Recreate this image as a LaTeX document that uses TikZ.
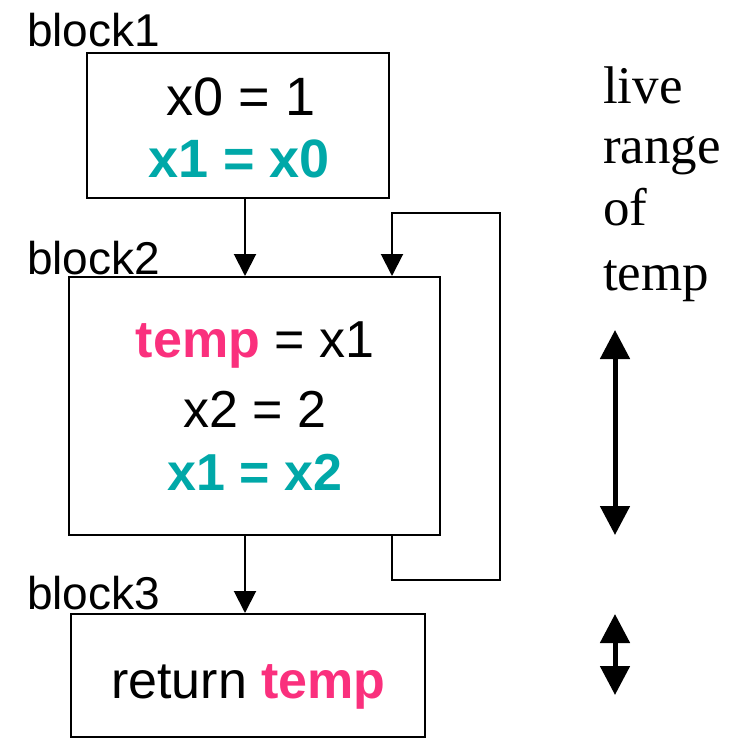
\documentclass[tikz,border=0pt]{standalone}
\usepackage{fontspec}
\setmainfont{Liberation Sans}
\newfontfamily\timesf{Liberation Serif}
\usetikzlibrary{arrows.meta}
\definecolor{tealc}{RGB}{0,168,168}
\definecolor{pinkc}{RGB}{250,48,125}
\begin{document}
\begin{tikzpicture}[x=1pt,y=-1pt,
  blockbox/.style={draw,line width=2pt,inner sep=0pt},
  codetext/.style={font=\fontsize{52}{62}\selectfont,anchor=base,inner sep=0pt},
  bigcode/.style={font=\fontsize{54}{62}\selectfont,anchor=base,inner sep=0pt},
  labeltext/.style={font=\fontsize{46}{55}\selectfont,anchor=base west,inner sep=0pt},
  sidetext/.style={font=\timesf\fontsize{53}{62}\selectfont,anchor=base west,inner sep=0pt},
  flow/.style={line width=2pt,-{Triangle[width=22pt,length=22pt]}},
  livearrow/.style={line width=5pt,{Triangle[width=29pt,length=29pt]}-{Triangle[width=29pt,length=29pt]}}]
\useasboundingbox (0,0) rectangle (742,747);
% blocks
\node[blockbox,minimum width=302pt,minimum height=145pt] (b1) at (238,125.5) {};
\node[blockbox,minimum width=371pt,minimum height=258pt] (b2) at (254.5,406) {};
\node[blockbox,minimum width=354pt,minimum height=123pt] (b3) at (248,675.5) {};
% labels
\node[labeltext] (l1) at (27,46) {block1};
\node[labeltext] (l2) at (27,274) {block2};
\node[labeltext] (l3) at (27,609) {block3};
% code
\node[bigcode] (t11) at (241,115) {x0 = 1};
\node[bigcode,text=tealc] (t12) at (239,177) {\bfseries x1 = x0};
\node[codetext] (t21) at (255,357) {\textcolor{pinkc}{\bfseries temp} = x1};
\node[codetext] (t22) at (255,427) {x2 = 2};
\node[codetext,text=tealc] (t23) at (255,490) {\bfseries x1 = x2};
\node[codetext] (t31) at (248.5,698) {return \textcolor{pinkc}{\bfseries temp}};
% side text
\node[sidetext] (s1) at (603,103) {live};
\node[sidetext] (s2) at (603,163) {range};
\node[sidetext] (s3) at (603,225) {of};
\node[sidetext] (s4) at (603,290) {temp};
% connectors
\coordinate (cx) at (245,0);
\coordinate (lx) at (392,0);
\coordinate (lb) at (500,580);
\coordinate (lt) at (392,213);
\draw[flow] (b1.south -| cx) -- (b2.north -| cx);
\draw[flow] (b2.south -| cx) -- (b3.north -| cx);
\draw[flow] (b2.south -| lx) |- (lb) |- (lt) -- (b2.north -| lx);
% live range arrows
\coordinate (r1) at (615,330);
\coordinate (r2) at (615,535);
\coordinate (r3) at (615,614);
\coordinate (r4) at (615,695);
\draw[livearrow] (r1) -- (r2);
\draw[livearrow] (r3) -- (r4);
\end{tikzpicture}
\end{document}
